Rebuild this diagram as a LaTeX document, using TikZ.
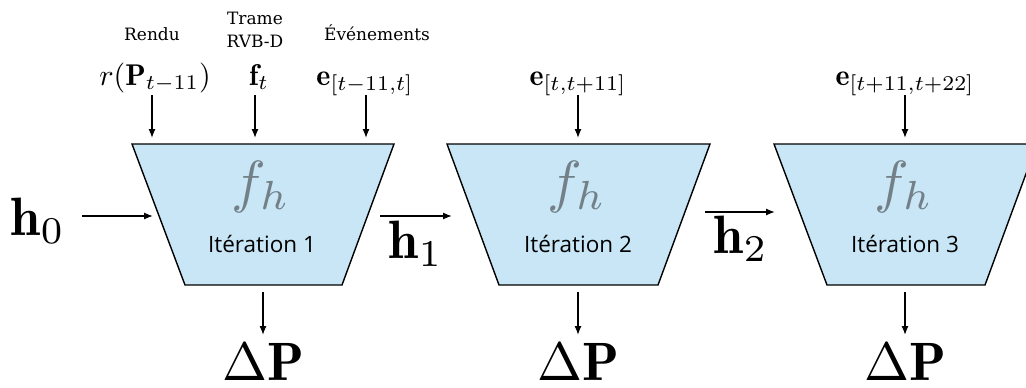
\documentclass[tikz,border=0pt]{standalone}
\usepackage{graphicx}
\usepackage{fontspec}
\newfontfamily\lblfont{DejaVu Serif}
\newfontfamily\itfont{Open Sans}
\usetikzlibrary{arrows.meta}
\definecolor{trapfill}{RGB}{200,230,246}
\definecolor{fhgray}{RGB}{115,128,136}
\newcommand{\mbig}[1]{\scalebox{5.4}{$#1$}}
\newcommand{\mfh}[1]{\scalebox{5.8}{$#1$}}
\newcommand{\mmid}[1]{\scalebox{3}{$#1$}}
\tikzset{
  trap/.style={draw=black, line width=1.4pt, fill=trapfill, line join=miter},
  arr/.style={line width=1.3pt, -{Latex[length=9pt,width=7pt]}},
  lbl/.style={font=\lblfont\fontsize{17}{23}\selectfont, inner sep=0pt},
  inlbl/.style={inner sep=0pt, anchor=base},
  big/.style={inner sep=0pt, anchor=base},
  fh/.style={inner sep=0pt, anchor=base, text=fhgray},
  iter/.style={font=\itfont\fontsize{22.5}{26}\selectfont, inner sep=0pt, anchor=base},
}
\begin{document}
\begin{tikzpicture}[x=1pt,y=-1pt]
\useasboundingbox (0,0) rectangle (1026,388);
\clip (0,0) rectangle (1026,388);
% trapezoids
\draw[trap] (132,144) -- (394,144) -- (342,285) -- (185,285) -- cycle;
\draw[trap] (447,144) -- (710,144) -- (658,285) -- (499,285) -- cycle;
\draw[trap] (774,144) -- (1037,144) -- (985,285) -- (827,285) -- cycle;
% inner labels
\foreach \cx/\n in {261/1,577/2,904/3}{
  \node[fh] (fh\n) at (\cx,201) {\mfh{f_h}};
}
\foreach \cx/\n in {262/1,578/2,905/3}{
  \node[iter] (it\n) at (\cx,252) {Itération \n};
}
% top text labels
\node[lbl, anchor=base] (rendu) at (152,40) {Rendu};
\node[lbl, anchor=base, align=center] (trame) at (255,47) {Trame\\RVB-D};
\node[lbl, anchor=base] (evts) at (377,40) {Événements};
% top math labels
\node[inlbl] (rP) at (155,85) {\mmid{r(\mathbf{P}_{t-11})}};
\node[inlbl] (ft) at (259,85) {\mmid{\mathbf{f}_t}};
\node[inlbl] (e1) at (365,85) {\mmid{\mathbf{e}_{[t-11,t]}}};
\node[inlbl] (e2) at (578,85) {\mmid{\mathbf{e}_{[t,t+11]}}};
\node[inlbl] (e3) at (905,85) {\mmid{\mathbf{e}_{[t+11,t+22]}}};
% top arrows
\foreach \x/\n in {152/a,255/b,366/c,578/d,905/e}{
  \coordinate (ts\n) at (\x,95);
  \coordinate (te\n) at (\x,138);
  \draw[arr] (ts\n) -- (te\n);
}
% bottom arrows and Delta P
\foreach \x/\n in {263/1,578/2,905/3}{
  \coordinate (bs\n) at (\x,292);
  \coordinate (be\n) at (\x,335);
  \draw[arr] (bs\n) -- (be\n);
  \node[big] (dP\n) at (\x,380) {\mbig{\Delta\mathbf{P}}};
}
% hidden state
\node[big] (h0) at (38,235) {\mbig{\mathbf{h}_0}};
\node[big] (h1) at (416,258) {\mbig{\mathbf{h}_1}};
\node[big] (h2) at (741,253) {\mbig{\mathbf{h}_2}};
\coordinate (h0s) at (82,216);
\coordinate (h0e) at (153,216);
\coordinate (h1s) at (380,216);
\coordinate (h1e) at (452,216);
\coordinate (h2s) at (705,212);
\coordinate (h2e) at (775,212);
\draw[arr] (h0s) -- (h0e);
\draw[arr] (h1s) -- (h1e);
\draw[arr] (h2s) -- (h2e);
\end{tikzpicture}
\end{document}
